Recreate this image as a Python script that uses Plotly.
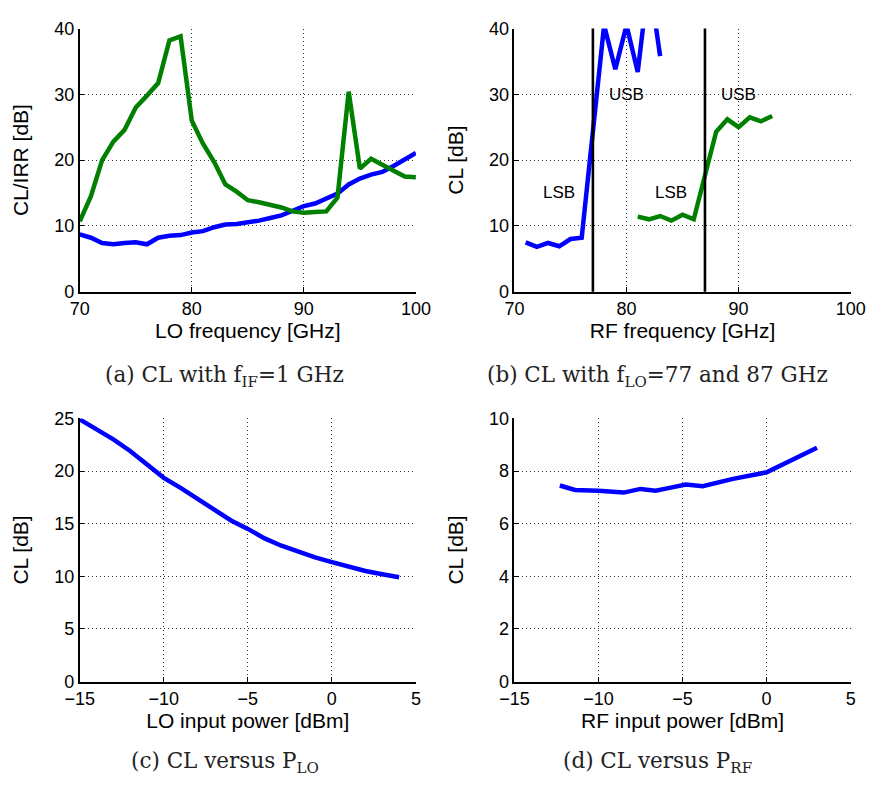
import plotly.graph_objects as go

# ---------- data ----------
# (a) CL / IRR versus LO frequency, f_IF = 1 GHz
lo_freq = list(range(70, 101))
cl_a = [8.7, 8.2, 7.4, 7.2, 7.4, 7.5, 7.2, 8.2, 8.5, 8.6, 9.0, 9.2, 9.8, 10.2, 10.3, 10.5,
        10.8, 11.2, 11.6, 12.3, 13.0, 13.4, 14.1, 14.9, 16.3, 17.2, 17.8, 18.2, 19.1, 20.2, 21.1]
irr_a = [10.7, 14.5, 20.0, 22.8, 24.6, 28.0, 29.8, 31.7, 38.2, 38.8, 26.0, 22.5, 19.7, 16.3,
         15.2, 13.9, 13.6, 13.2, 12.8, 12.2, 12.0, 12.1, 12.2, 14.3, 30.4, 18.7, 20.2, 19.3,
         18.3, 17.5, 17.4]

# (b) CL versus RF frequency, f_LO = 77 and 87 GHz
rf_freq_77 = [71, 72, 73, 74, 75, 76, 78, 79, 80, 81, 82, 83]
cl_b_77 = [7.5, 6.8, 7.4, 6.9, 8.0, 8.2, 40.5, 33.8, 40.5, 33.4, 47.7, 35.8]
rf_freq_87 = [81, 82, 83, 84, 85, 86, 88, 89, 90, 91, 92, 93]
cl_b_87 = [11.4, 11.0, 11.5, 10.8, 11.7, 11.0, 24.3, 26.2, 25.0, 26.5, 25.9, 26.7]
lo_markers = [77, 87]
band_labels = ["LSB", "USB", "LSB", "USB"]
band_label_x = [74, 80, 84, 90]
band_label_y = [15, 30, 15, 30]

# (c) CL versus LO input power
p_lo = [-15, -14, -13, -12, -11, -10, -9, -8, -7, -6, -5, -4, -3, -2, -1, 0, 1, 2, 3, 4]
cl_c = [24.9, 23.95, 23.0, 21.9, 20.65, 19.35, 18.4, 17.4, 16.4, 15.3, 14.5, 13.6, 12.9,
        12.3, 11.8, 11.35, 10.9, 10.5, 10.2, 9.9]

# (d) CL versus RF input power
p_rf = [-12.3, -11.4, -10.0, -8.5, -7.5, -6.6, -5.7, -4.8, -3.8, -2.0, 0.0, 1.5, 3.0]
cl_d = [7.45, 7.28, 7.25, 7.18, 7.32, 7.25, 7.37, 7.49, 7.42, 7.70, 7.95, 8.40, 8.88]

captions = ["(a) CL with f<sub>IF</sub>=1 GHz",
            "(b) CL with f<sub>LO</sub>=77 and 87 GHz",
            "(c) CL versus P<sub>LO</sub>",
            "(d) CL versus P<sub>RF</sub>"]

BLUE = "#0000FF"
GREEN = "#008000"
W, H = 884, 789
LW = 4.5

fig = go.Figure()
fig.add_trace(go.Scatter(x=lo_freq, y=cl_a, mode="lines", line=dict(color=BLUE, width=LW),
                         xaxis="x", yaxis="y"))
fig.add_trace(go.Scatter(x=lo_freq, y=irr_a, mode="lines", line=dict(color=GREEN, width=LW),
                         xaxis="x", yaxis="y"))
fig.add_trace(go.Scatter(x=rf_freq_77, y=cl_b_77, mode="lines", line=dict(color=BLUE, width=LW),
                         xaxis="x2", yaxis="y2"))
fig.add_trace(go.Scatter(x=rf_freq_87, y=cl_b_87, mode="lines", line=dict(color=GREEN, width=LW),
                         xaxis="x2", yaxis="y2"))
fig.add_trace(go.Scatter(x=p_lo, y=cl_c, mode="lines", line=dict(color=BLUE, width=LW),
                         xaxis="x3", yaxis="y3"))
fig.add_trace(go.Scatter(x=p_rf, y=cl_d, mode="lines", line=dict(color=BLUE, width=LW),
                         xaxis="x4", yaxis="y4"))

for f in lo_markers:
    fig.add_shape(type="line", xref="x2", yref="y2 domain", x0=f, x1=f, y0=0, y1=1,
                  line=dict(color="black", width=2.6))

for t, lx, ly in zip(band_labels, band_label_x, band_label_y):
    fig.add_annotation(x=lx, y=ly, xref="x2", yref="y2", text=t, showarrow=False,
                       font=dict(family="Liberation Sans", size=17, color="black"))

tick_font = dict(family="Liberation Sans", size=18, color="black")
title_font = dict(family="Liberation Sans", size=21, color="black")


def px_x(a, b):
    return [a / W, b / W]


def px_y(top, bottom):
    return [1 - bottom / H, 1 - top / H]


common = dict(showline=True, linecolor="black", linewidth=1.5, mirror=False,
              showgrid=True, gridcolor="#333333", gridwidth=1, griddash="1px,3px",
              zeroline=False, ticks="inside", ticklen=5, tickcolor="black", tickwidth=1,
              tickfont=tick_font)

xdomL, xdomR = px_x(67, 415), px_x(517, 865)
ydomT, ydomB = px_y(19, 289), px_y(419, 689)
YSO = 20

fig.update_layout(
    width=W, height=H, autosize=False, margin=dict(l=0, r=0, t=0, b=0),
    paper_bgcolor="white", plot_bgcolor="white", showlegend=False,
    xaxis=dict(domain=xdomL, anchor="y", range=[70, 100], dtick=10,
               title=dict(text="LO frequency [GHz]", font=title_font, standoff=3), **common),
    yaxis=dict(domain=ydomT, anchor="x", range=[0, 40], dtick=10,
               title=dict(text="CL/IRR [dB]", font=title_font, standoff=YSO), **common),
    xaxis2=dict(domain=xdomR, anchor="y2", range=[70, 100], dtick=10,
                title=dict(text="RF frequency [GHz]", font=title_font, standoff=3), **common),
    yaxis2=dict(domain=ydomT, anchor="x2", range=[0, 40], dtick=10,
                title=dict(text="CL [dB]", font=title_font, standoff=YSO), **common),
    xaxis3=dict(domain=xdomL, anchor="y3", range=[-15, 5], dtick=5,
                title=dict(text="LO input power [dBm]", font=title_font, standoff=3), **common),
    yaxis3=dict(domain=ydomB, anchor="x3", range=[0, 25], dtick=5,
                title=dict(text="CL [dB]", font=title_font, standoff=YSO), **common),
    xaxis4=dict(domain=xdomR, anchor="y4", range=[-15, 5], dtick=5,
                title=dict(text="RF input power [dBm]", font=title_font, standoff=3), **common),
    yaxis4=dict(domain=ydomB, anchor="x4", range=[0, 10], dtick=2,
                title=dict(text="CL [dB]", font=title_font, standoff=YSO), **common),
)

cap_pos = [(217, 376), (665, 376), (217, 772), (665, 772)]
for txt, (cx, cy) in zip(captions, cap_pos):
    fig.add_annotation(x=cx / W, y=1 - cy / H, xref="paper", yref="paper", text=txt,
                       showarrow=False, xanchor="center", yanchor="middle",
                       font=dict(family="DejaVu Serif", size=21.5, color="#222222"))

fig.write_html("out.html")
